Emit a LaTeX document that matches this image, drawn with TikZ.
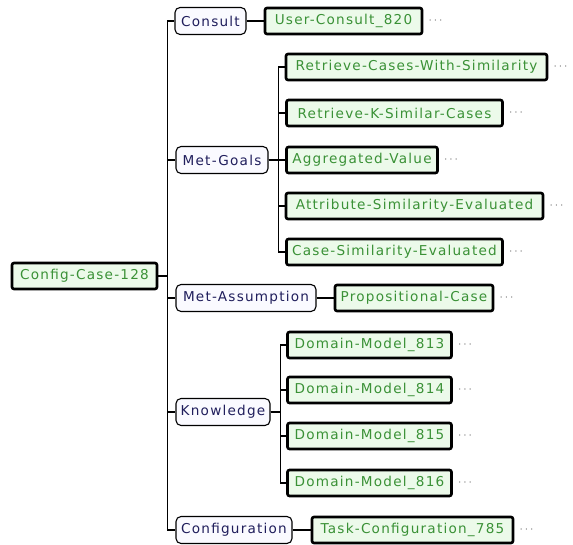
\documentclass[tikz,border=0pt]{standalone}
\usepackage{fontspec}
\newfontfamily\boxfont{DejaVu Sans}[LetterSpace=9]
\definecolor{valfill}{RGB}{236,250,234}
\definecolor{valtext}{RGB}{58,145,54}
\definecolor{slotfill}{RGB}{250,250,255}
\definecolor{slottext}{RGB}{32,30,92}
\definecolor{dotgray}{RGB}{110,110,110}
\tikzset{
  valbox/.style={draw=black, line width=2.6pt, rounded corners=2pt, fill=valfill,
    text=valtext, minimum height=26pt, inner sep=0pt,
    font=\boxfont\fontsize{13.6}{15}\selectfont},
  slotbox/.style={draw=black, line width=1.1pt, rounded corners=5pt, fill=slotfill,
    text=slottext, minimum height=27pt, inner sep=0pt,
    font=\boxfont\fontsize{13.6}{15}\selectfont},
  link/.style={draw=black, line width=1.3pt},
  moredots/.style={text=dotgray, inner sep=0pt, font=\fontsize{13}{13}\selectfont}
}
\begin{document}
\begin{tikzpicture}[x=1pt,y=-1pt]
\useasboundingbox (0,0) rectangle (573,545);

% root frame
\node[valbox, minimum width=145pt] (root) at (84.5,276) {Config-Case-128};

% slots
\node[slotbox, minimum width=71pt]  (consult)   at (210.5,21)  {Consult};
\node[slotbox, minimum width=92pt]  (metgoals)  at (222,160)   {Met-Goals};
\node[slotbox, minimum width=140pt] (metassump) at (246,298)   {Met-Assumption};
\node[slotbox, minimum width=94pt]  (knowledge) at (223,412)   {Knowledge};
\node[slotbox, minimum width=116pt] (config)    at (234,530)   {Configuration};

% slot values
\node[valbox, minimum width=157pt] (userconsult) at (343.5,21) {User-Consult\_820};
\node[valbox, minimum width=261pt] (rcws)  at (416.5,67)  {Retrieve-Cases-With-Similarity};
\node[valbox, minimum width=216pt] (rksc)  at (394.5,113) {Retrieve-K-Similar-Cases};
\node[valbox, minimum width=151pt] (aggval) at (362,160)  {Aggregated-Value};
\node[valbox, minimum width=257pt] (ase)   at (414.5,206) {Attribute-Similarity-Evaluated};
\node[valbox, minimum width=216pt] (cse)   at (394.5,252) {Case-Similarity-Evaluated};
\node[valbox, minimum width=158pt] (propcase) at (414,298) {Propositional-Case};
\node[valbox, minimum width=164pt] (dma) at (369.5,345) {Domain-Model\_813};
\node[valbox, minimum width=164pt] (dmb) at (369.5,390) {Domain-Model\_814};
\node[valbox, minimum width=164pt] (dmc) at (369.5,436) {Domain-Model\_815};
\node[valbox, minimum width=164pt] (dmd) at (369.5,483) {Domain-Model\_816};
\node[valbox, minimum width=201pt] (taskconf) at (412.5,530) {Task-Configuration\_785};

% elided continuations
\foreach \v in {userconsult,rcws,rksc,aggval,ase,cse,propcase,dma,dmb,dmc,dmd,taskconf}
  \node[moredots, anchor=west] (\v-more) at ([xshift=5pt]\v.east) {$\cdots$};

% connectors: frame to slots
\foreach \s in {consult,metgoals,metassump,knowledge,config}
  \draw[link] (root.east) -- ++(9,0) |- (\s.west);

% connectors: slots to values
\draw[link] (consult.east) -- (consult.east -| userconsult.west);
\foreach \v in {rcws,rksc,aggval,ase,cse}
  \draw[link] (metgoals.east) -- ++(10,0) |- (\v.west);
\draw[link] (metassump.east) -- (metassump.east -| propcase.west);
\foreach \v in {dma,dmb,dmc,dmd}
  \draw[link] (knowledge.east) -- ++(10,0) |- (\v.west);
\draw[link] (config.east) -- (config.east -| taskconf.west);
\end{tikzpicture}
\end{document}
